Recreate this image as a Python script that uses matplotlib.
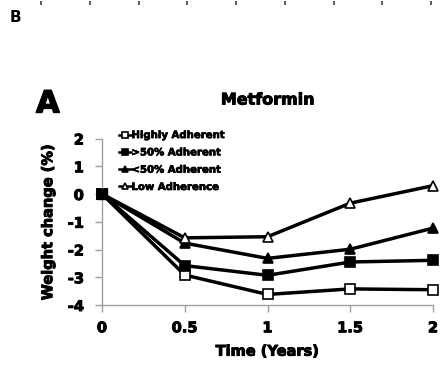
import matplotlib
matplotlib.use("Agg")
import matplotlib.pyplot as plt
import matplotlib.patheffects as pe

years = [0, 0.5, 1, 1.5, 2]
series_names = ["Highly Adherent", ">50% Adherent", "<50% Adherent", "Low Adherence"]
highly = [0, -2.92, -3.62, -3.42, -3.45]
above50 = [0, -2.58, -2.93, -2.45, -2.39]
below50 = [0, -1.77, -2.32, -1.99, -1.23]
low = [0, -1.58, -1.54, -0.33, 0.30]
x_ticks = [0, 0.5, 1, 1.5, 2]
x_tick_labels = ["0", "0.5", "1", "1.5", "2"]
y_ticks = [-4, -3, -2, -1, 0, 1, 2]

plt.rcParams['font.family'] = ['DejaVu Sans']
plt.rcParams['font.weight'] = 'bold'
plt.rcParams['axes.unicode_minus'] = False

heavy = [pe.Stroke(linewidth=0.7, foreground='black'), pe.Normal()]

W, H = 441, 382
fig = plt.figure(figsize=(W/100, H/100), dpi=100)

ax = fig.add_axes([102/W, (H-305)/H, (433-102)/W, (305-138.5)/H])

styles = [
    dict(marker='s', mfc='white'),
    dict(marker='s', mfc='black'),
    dict(marker='^', mfc='black'),
    dict(marker='^', mfc='white'),
]
data = [highly, above50, below50, low]
for name, vals, st in zip(series_names, data, styles):
    ax.plot(years, vals, color='black', lw=2.5, ms=6.5, mec='black', mew=1.2,
            label=name, **st, clip_on=False)
ax.plot([years[0]], [above50[0]], marker='s', color='black', ms=7, clip_on=False, zorder=5)

ax.set_xlim(0, 2)
ax.set_ylim(-4, 2)
ax.set_xticks(x_ticks)
ax.set_xticklabels(x_tick_labels)
ax.set_yticks(y_ticks)
for s in ['top', 'right']:
    ax.spines[s].set_visible(False)
for s in ['left', 'bottom']:
    ax.spines[s].set_color('#a0a0a0')
    ax.spines[s].set_linewidth(1.0)
ax.tick_params(axis='both', colors='#a0a0a0', length=5, width=1.0, labelcolor='black',
               labelsize=10.5)
ax.tick_params(axis='x', pad=6)
ax.tick_params(axis='y', pad=8)
for lbl in ax.get_xticklabels() + ax.get_yticklabels():
    lbl.set_fontweight('bold')
    lbl.set_path_effects(heavy)

xl = ax.set_xlabel("Time (Years)", fontsize=10.5, fontweight='bold', labelpad=6)
yl = ax.set_ylabel("Weight change (%)", fontsize=10.5, fontweight='bold', labelpad=9)
xl.set_path_effects(heavy)
yl.set_path_effects(heavy)

leg = ax.legend(loc='upper left', bbox_to_anchor=(0.04, 1.075), frameon=False,
                fontsize=7.3, handlelength=1.2, handletextpad=0.0, labelspacing=0.72,
                markerscale=0.6, borderaxespad=0.0)
for t in leg.get_texts():
    t.set_fontweight('bold')
    t.set_path_effects([pe.Stroke(linewidth=0.5, foreground='black'), pe.Normal()])
for h in leg.legend_handles:
    h.set_linewidth(1.8)

t1 = fig.text(268/W, 1 - 100/H, "Metformin", ha='center', va='center', fontsize=11.5, fontweight='bold')
t1.set_path_effects(heavy)
t2 = fig.text(36/W, 1 - 104/H, "A", ha='left', va='center', fontsize=22, fontweight='bold')
t2.set_path_effects([pe.Stroke(linewidth=1.0, foreground='black'), pe.Normal()])
fig.text(10/W, 1 - 17/H, "B", ha='left', va='center', fontsize=11, fontweight='bold')

axt = fig.add_axes([41/W, 1 - 0.5/H, (431-41)/W, 0.5/H])
axt.set_xlim(0, 8)
axt.set_xticks(range(9))
axt.set_yticks([])
for s in axt.spines.values():
    s.set_visible(False)
axt.tick_params(axis='x', direction='out', length=3, width=1.2, color='#404040', labelbottom=False)

fig.savefig("out.png", dpi=100)
